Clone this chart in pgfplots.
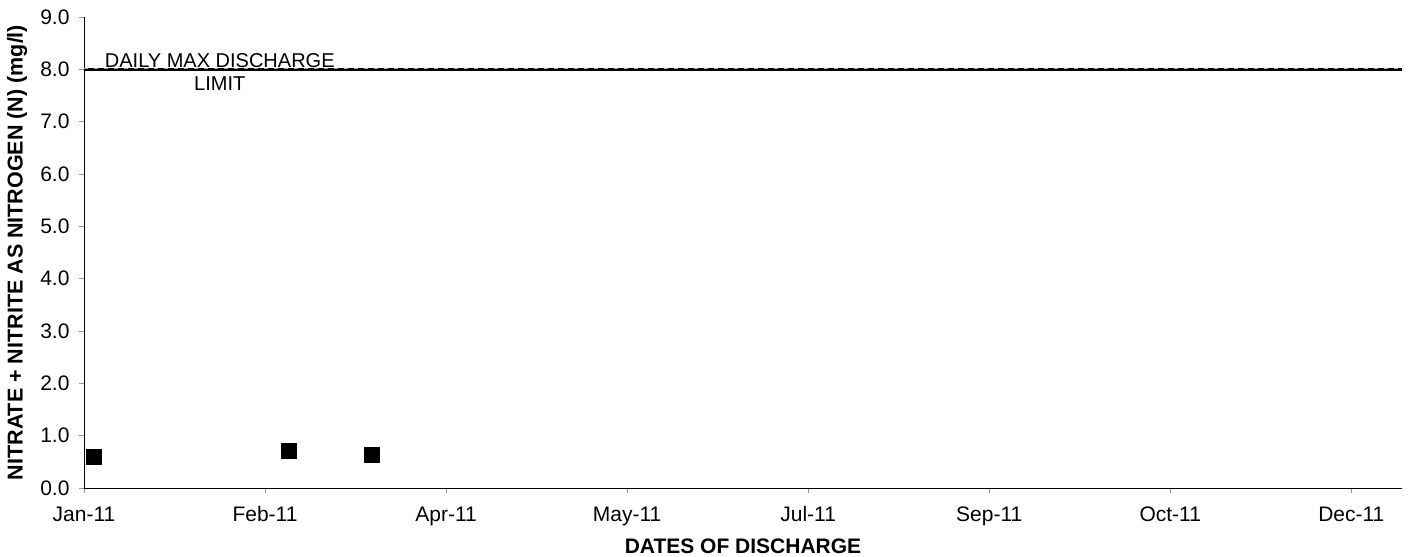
\documentclass[border=0pt]{standalone}
\usepackage{pgfplots}
\pgfplotsset{compat=1.18}
\usepackage{fontspec}
\setmainfont{Liberation Sans}

\begin{document}
\begin{tikzpicture}
\begin{axis}[
  scale only axis,
  width=1318pt, height=471pt,
  xmin=0, xmax=364,
  ymin=0, ymax=9,
  axis lines=left,
  axis line style={black, line width=0.9pt, -},
  xtick={0,50,100,150,200,250,300,350},
  xticklabels={Jan-11,Feb-11,Apr-11,May-11,Jul-11,Sep-11,Oct-11,Dec-11},
  ytick={0,1,...,9},
  yticklabel style={/pgf/number format/fixed, /pgf/number format/fixed zerofill, /pgf/number format/precision=1},
  /pgf/number format/assume math mode=true,
  tick style={gray!80, line width=0.8pt},
  tick align=outside,
  major tick length=5pt,
  ticklabel style={font=\fontsize{21}{24}\selectfont, black},
  xticklabel style={anchor=base, yshift=-29pt},
  yticklabel style={xshift=-6pt},
  xlabel={DATES OF DISCHARGE},
  ylabel={NITRATE + NITRITE AS NITROGEN (N) (mg/l)},
  xlabel style={font=\bfseries\fontsize{21}{24}\selectfont, at={(axis description cs:0.5,0)}, anchor=center, yshift=-58pt},
  ylabel style={font=\bfseries\fontsize{21.5}{24}\selectfont, at={(axis description cs:0,0.5)}, anchor=center, yshift=67pt},
  clip=false,
]
% discharge limit
\addplot[black, line width=3pt, forget plot] coordinates {(0,8) (364,8)};
\addplot[gray!70, line width=1pt, dash pattern=on 4pt off 6pt, yshift=1.2pt, forget plot] coordinates {(0,8) (364,8)};
\node[align=center, font=\fontsize{20}{23}\selectfont, inner sep=0pt] at (axis cs:37.5,7.95) {DAILY MAX DISCHARGE\\LIMIT};
% measured values
\addplot[only marks, mark=square*, mark size=7.5pt, black] coordinates {
  (2.8,0.60) (56.5,0.71) (79.5,0.64)
};
\end{axis}
\pgfresetboundingbox
\path (current axis.south west) ++(-84pt,-69pt) coordinate (bbA);
\path (current axis.north east) ++(7pt,17pt) coordinate (bbB);
\path (bbA) rectangle (bbB);
\end{tikzpicture}
\end{document}
